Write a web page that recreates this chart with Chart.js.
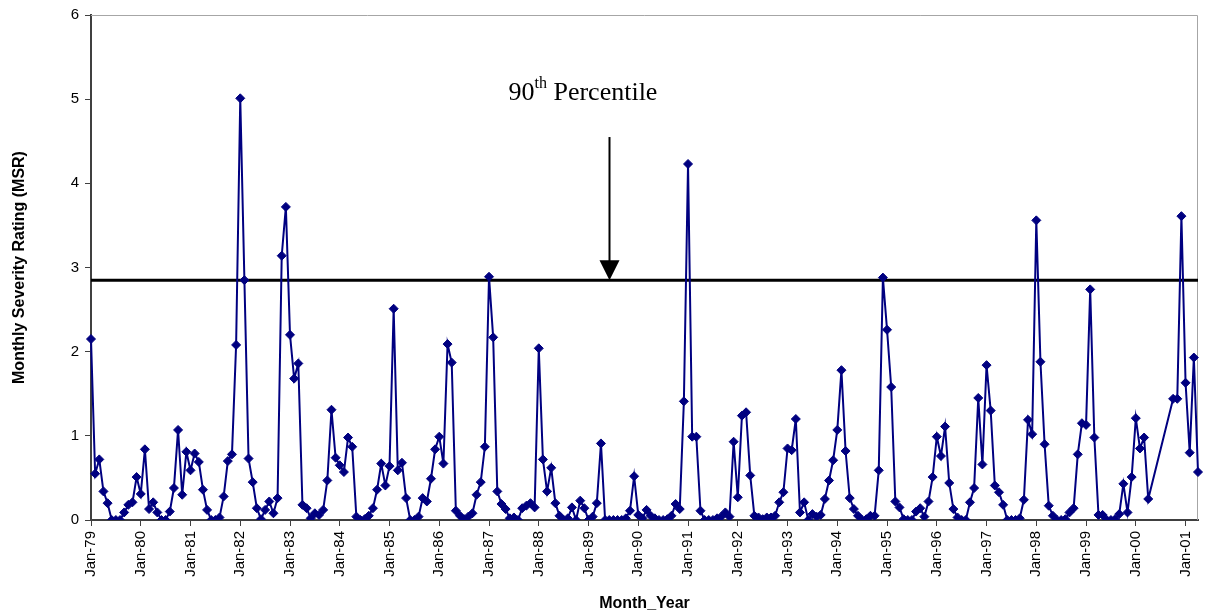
<!DOCTYPE html>
<html>
<head>
<meta charset="utf-8">
<script src="https://cdn.jsdelivr.net/npm/chart.js@4.4.1/dist/chart.umd.min.js"></script>
<style>
  html, body { margin: 0; padding: 0; background: #fff; }
  canvas { display: block; }
</style>
</head>
<body>
<canvas id="msr-chart" width="1205" height="614"></canvas>
<script>
// Monthly severity rating, Jan-79 .. Apr-01 (null = month not reported)
const startYear = 1979;
const monthNames = ["Jan", "Feb", "Mar", "Apr", "May", "Jun", "Jul", "Aug", "Sep", "Oct", "Nov", "Dec"];
const msrValues = [
  2.15, 0.55, 0.72, 0.34, 0.20, 0.00, 0.00, 0.00, 0.09, 0.18, 0.21, 0.51, // 1979
  0.31, 0.84, 0.13, 0.21, 0.09, 0.00, 0.00, 0.10, 0.38, 1.07, 0.30, 0.81, // 1980
  0.59, 0.79, 0.69, 0.36, 0.12, 0.00, 0.00, 0.03, 0.28, 0.70, 0.78, 2.08, // 1981
  5.01, 2.85, 0.73, 0.45, 0.14, 0.01, 0.12, 0.22, 0.08, 0.26, 3.14, 3.72, // 1982
  2.20, 1.68, 1.86, 0.18, 0.14, 0.02, 0.08, 0.06, 0.12, 0.47, 1.31, 0.74, // 1983
  0.65, 0.57, 0.98, 0.87, 0.04, 0.00, 0.01, 0.05, 0.14, 0.36, 0.67, 0.41, // 1984
  0.64, 2.51, 0.59, 0.68, 0.26, 0.00, 0.00, 0.04, 0.26, 0.22, 0.49, 0.84, // 1985
  0.99, 0.67, 2.09, 1.87, 0.11, 0.05, 0.01, 0.04, 0.08, 0.30, 0.45, 0.87, // 1986
  2.89, 2.17, 0.34, 0.19, 0.13, 0.02, 0.03, 0.00, 0.14, 0.17, 0.20, 0.15, // 1987
  2.04, 0.72, 0.34, 0.62, 0.20, 0.05, 0.00, 0.02, 0.15, 0.00, 0.23, 0.14, // 1988
  0.00, 0.04, 0.20, 0.91, 0.00, 0.00, 0.00, 0.00, 0.00, 0.02, 0.11, 0.52, // 1989
  0.06, 0.02, 0.12, 0.05, 0.02, 0.00, 0.00, 0.01, 0.05, 0.19, 0.13, 1.41, // 1990
  4.23, 0.99, 0.99, 0.11, 0.00, 0.00, 0.00, 0.02, 0.04, 0.09, 0.04, 0.93, // 1991
  0.27, 1.24, 1.28, 0.53, 0.05, 0.03, 0.01, 0.03, 0.03, 0.05, 0.21, 0.33, // 1992
  0.85, 0.83, 1.20, 0.09, 0.21, 0.00, 0.07, 0.04, 0.06, 0.25, 0.47, 0.71, // 1993
  1.07, 1.78, 0.82, 0.26, 0.13, 0.05, 0.00, 0.01, 0.05, 0.05, 0.59, 2.88, // 1994
  2.26, 1.58, 0.22, 0.15, 0.01, 0.00, 0.00, 0.10, 0.14, 0.04, 0.22, 0.51, // 1995
  0.99, 0.76, 1.11, 0.44, 0.13, 0.03, 0.00, 0.00, 0.21, 0.38, 1.45, 0.66, // 1996
  1.84, 1.30, 0.41, 0.33, 0.18, 0.00, 0.00, 0.00, 0.02, 0.24, 1.19, 1.02, // 1997
  3.56, 1.88, 0.90, 0.17, 0.05, 0.00, 0.00, 0.01, 0.09, 0.14, 0.78, 1.15, // 1998
  1.13, 2.74, 0.98, 0.06, 0.06, 0.00, 0.00, 0.01, 0.07, 0.43, 0.09, 0.51, // 1999
  1.21, 0.85, 0.98, 0.25, null, null, null, null, null, 1.44, 1.44, 3.61, // 2000
  1.63, 0.80, 1.93, 0.57                                                  // 2001
];
const percentile90 = 2.85;
const arrowLabel = "Jun-89";
const arrowTopValue = 4.55;
const yTicks = [0, 1, 2, 3, 4, 5, 6];

const monthLabels = msrValues.map((v, i) => {
  const yy = String((startYear + Math.floor(i / 12)) % 100).padStart(2, "0");
  return monthNames[i % 12] + "-" + yy;
});

Chart.defaults.font.family = "'Liberation Sans', Arial, sans-serif";
Chart.defaults.color = "#000";

// grey frame on the top and right of the plot area, plus the arrow + label
const annotate = {
  id: "annotate",
  beforeDatasetsDraw(chart) {
    const { ctx, chartArea: a } = chart;
    ctx.save();
    ctx.strokeStyle = "#a6a6a6";
    ctx.lineWidth = 1;
    ctx.beginPath();
    ctx.moveTo(a.left, a.top + 0.5);
    ctx.lineTo(a.right - 0.5, a.top + 0.5);
    ctx.lineTo(a.right - 0.5, a.bottom);
    ctx.stroke();
    ctx.restore();
  },
  afterDatasetsDraw(chart) {
    const { ctx } = chart;
    const x = chart.scales.x;
    const y = chart.scales.y;
    const ax = Math.round(x.getPixelForValue(monthLabels.indexOf(arrowLabel))) + 0.5;
    const top = y.getPixelForValue(arrowTopValue);
    const tip = y.getPixelForValue(percentile90);

    ctx.save();
    ctx.strokeStyle = "#000";
    ctx.fillStyle = "#000";
    ctx.lineWidth = 2;
    ctx.beginPath();
    ctx.moveTo(ax, top);
    ctx.lineTo(ax, tip - 18);
    ctx.stroke();
    ctx.beginPath();
    ctx.moveTo(ax - 10, tip - 20);
    ctx.lineTo(ax + 10, tip - 20);
    ctx.lineTo(ax, tip);
    ctx.closePath();
    ctx.fill();

    // "90th Percentile" with superscript
    const left = ax - 101;
    const base = top - 37;
    ctx.textBaseline = "alphabetic";
    ctx.textAlign = "left";
    ctx.font = "26px 'Liberation Serif', 'Times New Roman', serif";
    ctx.fillText("90", left, base);
    let w = ctx.measureText("90").width;
    ctx.font = "16px 'Liberation Serif', 'Times New Roman', serif";
    ctx.fillText("th", left + w, base - 12);
    w += ctx.measureText("th").width;
    ctx.font = "26px 'Liberation Serif', 'Times New Roman', serif";
    ctx.fillText(" Percentile", left + w, base);
    ctx.restore();
  }
};

new Chart("msr-chart", {
  type: "line",
  data: {
    labels: monthLabels,
    datasets: [
      {
        data: msrValues,
        borderColor: "#000080",
        backgroundColor: "#000080",
        borderWidth: 2,
        pointStyle: "rectRot",
        pointRadius: 4.5,
        pointBorderWidth: 1,
        pointBackgroundColor: "#000080",
        pointBorderColor: "#000080",
        spanGaps: true,
        tension: 0,
        order: 1,
      },
      {
        data: monthLabels.map(() => percentile90),
        borderColor: "#000",
        borderWidth: 3,
        pointRadius: 0,
        order: 2,
      },
    ],
  },
  options: {
    responsive: false,
    animation: false,
    layout: {
      padding: { top: 14, right: 7, left: 0, bottom: 0 }
    },
    plugins: {
      legend: { display: false },
      tooltip: { enabled: false },
    },
    scales: {
      x: {
        type: "category",
        offset: false,
        afterFit: (scale) => {
          scale.height = 94;
          scale.paddingLeft = 0;
          scale.paddingRight = 0;
        },
        grid: {
          drawOnChartArea: false,
          tickLength: 6,
          color: "#404040",
        },
        border: { color: "#404040", width: 2 },
        ticks: {
          autoSkip: false,
          maxRotation: 90,
          minRotation: 90,
          padding: 5,
          font: { size: 15 },
          callback: (val, i) => (i % 12 === 0 ? monthLabels[i] : null),
        },
        title: {
          display: true,
          text: "Month_Year",
          font: { size: 16, weight: "bold" },
          padding: { top: 0, bottom: 1 },
        },
      },
      y: {
        min: 0,
        max: 6,
        afterFit: (scale) => { scale.width = 91; },
        afterBuildTicks: (scale) => { scale.ticks = yTicks.map(v => ({ value: v })); },
        grid: {
          drawOnChartArea: false,
          tickLength: 6,
          color: "#404040",
        },
        border: { color: "#404040", width: 2 },
        ticks: {
          padding: 6,
          font: { size: 15 },
        },
        title: {
          display: true,
          text: "Monthly Severity Rating (MSR)",
          font: { size: 16, weight: "bold" },
          padding: { top: 10, bottom: 0 },
        },
      },
    },
  },
  plugins: [annotate],
});
</script>
</body>
</html>
